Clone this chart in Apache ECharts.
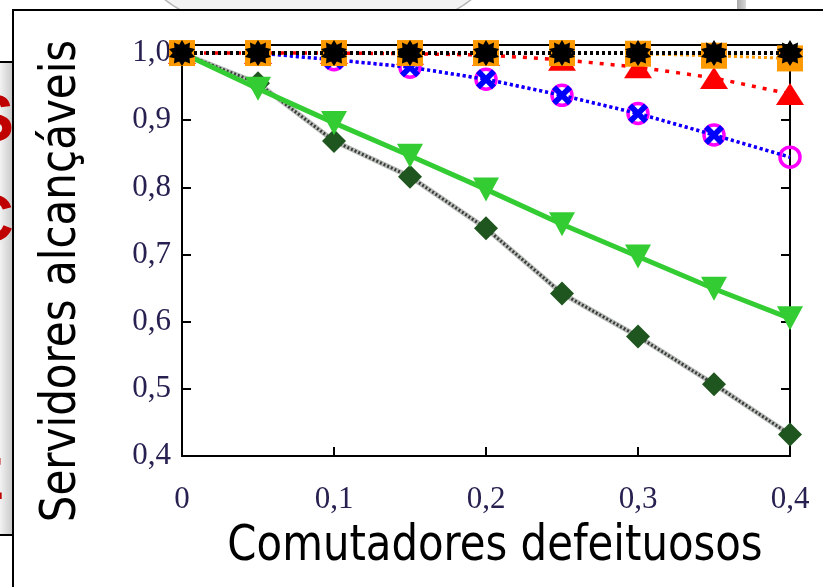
<!DOCTYPE html>
<html>
<head>
<meta charset="utf-8">
<script src="https://cdn.jsdelivr.net/npm/echarts@6/dist/echarts.min.js"></script>
<style>
  html, body { margin: 0; padding: 0; background: #ffffff; }
  #chart { width: 823px; height: 587px; }
</style>
</head>
<body>
<div id="chart"></div>
<script>
// Fraction of faulty switches (x) and fraction of reachable servers (y)
const faultyFractions = [0, 0.05, 0.1, 0.15, 0.2, 0.25, 0.3, 0.35, 0.4];
const xTickLabels = ['0', '0,1', '0,2', '0,3', '0,4'];
const yTickLabels = ['0,4', '0,5', '0,6', '0,7', '0,8', '0,9', '1,0'];

const serOrange  = [1, 1, 1, 1, 1, 1, 0.999, 0.996, 0.992];
const serRed     = [1, 1, 1, 0.999, 0.997, 0.99, 0.979, 0.963, 0.939];
const serMagenta = [1, 1, 0.99, 0.979, 0.961, 0.937, 0.91, 0.878, 0.845];
const serBlue    = [1, 1, 0.99, 0.979, 0.961, 0.937, 0.91, 0.878, 0.845];
const serGreen   = [1, 0.947, 0.896, 0.847, 0.797, 0.745, 0.697, 0.649, 0.605];
const serDiamond = [1, 0.955, 0.869, 0.816, 0.739, 0.642, 0.578, 0.507, 0.432];
const serBlack   = [1, 1, 1, 1, 1, 1, 1, 1, 1];

const xTitle = 'Comutadores defeituosos';
const yTitle = 'Servidores alcançáveis';

function pairs(ys) { return faultyFractions.map((x, i) => [x, ys[i]]); }

// Spiky star marker
function starPath(n, rOut, rIn) {
  let d = '';
  for (let i = 0; i < 2 * n; i++) {
    const r = i % 2 === 0 ? rOut : rIn;
    const a = Math.PI * i / n - Math.PI / 2;
    d += (i === 0 ? 'M' : 'L') + (50 + r * Math.cos(a)).toFixed(2) + ',' + (50 + r * Math.sin(a)).toFixed(2) + ' ';
  }
  return 'path://' + d + 'Z';
}
const STAR = starPath(10, 50, 34);
const CROSS = 'path://M0,2 L2,0 L5,3 L8,0 L10,2 L7,5 L10,8 L8,10 L5,7 L2,10 L0,8 L3,5 Z';

const labelFont = { fontFamily: 'Liberation Serif, serif', fontSize: 31, color: '#272050' };
const titleFont = '50px "Liberation Sans Narrow", "DejaVu Sans Condensed", sans-serif';

const chart = echarts.init(document.getElementById('chart'));
chart.setOption({
  animation: false,
  backgroundColor: '#ffffff',
  graphic: [
    // slide elements behind the figure frame
    { type: 'rect', z: -20, shape: { x: 0, y: 62, width: 14, height: 473 },
      style: { fill: new echarts.graphic.LinearGradient(0, 0, 1, 0, [{ offset: 0, color: '#f2f2f2' }, { offset: 1, color: '#c4c4c4' }]) } },
    { type: 'line', z: -19, shape: { x1: 0, y1: 62, x2: 14, y2: 62 }, style: { stroke: '#000', lineWidth: 2 } },
    { type: 'line', z: -19, shape: { x1: 0, y1: 535, x2: 14, y2: 535 }, style: { stroke: '#000', lineWidth: 2 } },
    { type: 'text', z: -18, style: { text: 'S', x: -30, y: 90, font: 'bold 66px Liberation Sans', fill: '#c00000' } },
    { type: 'text', z: -18, style: { text: 'C', x: -34, y: 190, font: 'bold 66px Liberation Sans', fill: '#c00000' } },
    { type: 'text', z: -18, style: { text: 'E', x: -36, y: 452, font: 'bold 60px Liberation Sans', fill: '#c00000' } },
    { type: 'ellipse', z: -20, shape: { cx: 318, cy: -30, rx: 170, ry: 68 }, style: { fill: '#f3f3f3', stroke: '#b5b5b5', lineWidth: 1.5 } },
    { type: 'rect', z: -20, shape: { x: 737, y: 0, width: 9, height: 12 },
      style: { fill: new echarts.graphic.LinearGradient(0, 0, 1, 0, [{ offset: 0, color: '#a8a8a8' }, { offset: 1, color: '#d8d8d8' }]) } },
    // figure frame
    { type: 'rect', z: -10, shape: { x: 13, y: 10, width: 830, height: 600 }, style: { fill: '#ffffff', stroke: '#000000', lineWidth: 2 } },
    // axis titles
    { type: 'text', z: 10, x: 495, y: 547, scaleX: 0.93,
      style: { text: xTitle, x: 0, y: 0, align: 'center', verticalAlign: 'middle', font: titleFont, fill: '#000' } },
    { type: 'text', z: 10, rotation: Math.PI / 2, x: 62, y: 281, scaleX: 0.935,
      style: { text: yTitle, x: 0, y: 0, align: 'center', verticalAlign: 'middle', font: titleFont, fill: '#000' } }
  ],
  grid: { left: 182, right: 33, top: 45, bottom: 131, show: true, borderColor: '#000', borderWidth: 2, backgroundColor: 'transparent' },
  xAxis: {
    type: 'value', min: 0, max: 0.4, interval: 0.1,
    axisLine: { show: true, lineStyle: { color: '#000', width: 2 } },
    axisTick: { show: true, inside: true, length: 9, lineStyle: { color: '#000', width: 2 } },
    splitLine: { show: false },
    axisLabel: Object.assign({ margin: 28, formatter: v => xTickLabels[Math.round(v * 10)] }, labelFont)
  },
  yAxis: [
    {
      type: 'value', min: 0.4, max: 1.012, interval: 0.1,
      axisLine: { show: true, lineStyle: { color: '#000', width: 2 } },
      axisTick: { show: true, inside: true, length: 9, lineStyle: { color: '#000', width: 2 } },
      splitLine: { show: false },
      axisLabel: Object.assign({ margin: 11, showMaxLabel: false,
        formatter: v => { const k = Math.round(v * 10) - 4; return (Math.abs(v * 10 - Math.round(v * 10)) < 1e-6 && yTickLabels[k]) || ''; } }, labelFont)
    },
    {
      type: 'value', min: 0.4, max: 1.012, interval: 0.1, position: 'right',
      axisLine: { show: true, lineStyle: { color: '#000', width: 2 } },
      axisTick: { show: true, inside: true, length: 9, lineStyle: { color: '#000', width: 2 } },
      splitLine: { show: false }, axisLabel: { show: false }
    }
  ],
  series: [
    { type: 'line', data: pairs(serDiamond), clip: false, symbol: 'none', z: 2,
      lineStyle: { color: '#b9beb9', width: 5 } },
    { type: 'line', data: pairs(serDiamond), clip: false, symbol: 'diamond', symbolSize: 24, z: 3,
      itemStyle: { color: '#1f561f' }, lineStyle: { color: '#3a3a3a', width: 3, type: [2, 2] } },
    { type: 'line', data: pairs(serGreen), clip: false, symbol: 'triangle', symbolRotate: 180, symbolSize: [26, 24], z: 4,
      itemStyle: { color: '#33cc33' }, lineStyle: { color: '#33cc33', width: 5 } },
    { type: 'line', data: pairs(serMagenta), clip: false, symbol: 'circle', symbolSize: 20, z: 5,
      itemStyle: { color: 'rgba(255,255,255,0)', borderColor: '#ff00ff', borderWidth: 3.5 }, lineStyle: { color: '#ff00ff', width: 3, type: [3, 3] } },
    { type: 'line', data: pairs(serBlue).map((p, i) => i === faultyFractions.length - 1 ? { value: p, symbol: 'none' } : p),
      clip: false, symbol: CROSS, symbolSize: 20, z: 6,
      itemStyle: { color: '#0000ff' }, lineStyle: { color: '#0000ff', width: 3.5, type: [3, 3] } },
    { type: 'line', data: pairs(serRed), clip: false, symbol: 'triangle', symbolSize: [28, 22], z: 7,
      itemStyle: { color: '#ff0000' }, lineStyle: { color: '#ff0000', width: 3.5, type: [4, 7] } },
    { type: 'line', data: pairs(serOrange), clip: false, symbol: 'rect', symbolSize: 26, z: 8,
      itemStyle: { color: '#ff9900' }, lineStyle: { color: '#ff9900', width: 3, type: [3, 3] } },
    { type: 'line', data: pairs(serBlack), clip: false, symbol: STAR, symbolSize: 26, z: 9,
      itemStyle: { color: '#000000' }, lineStyle: { color: '#000000', width: 4, type: [3, 3] } }
  ]
});
</script>
</body>
</html>
